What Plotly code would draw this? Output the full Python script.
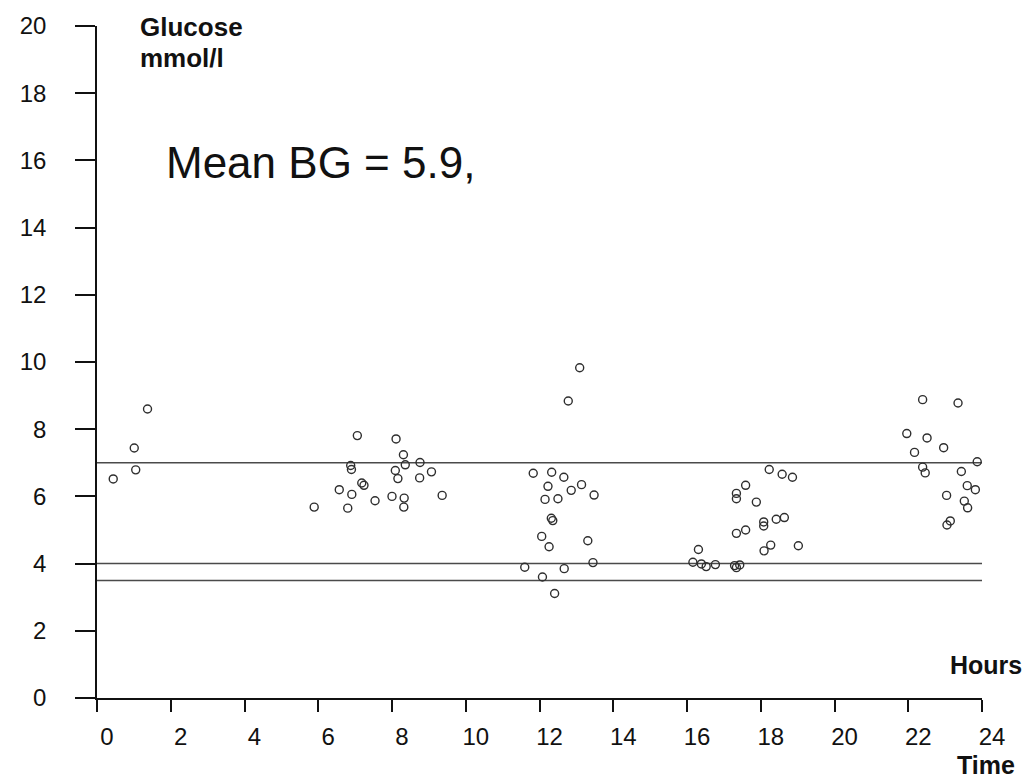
import plotly.graph_objects as go

# Blood glucose readings over the day (time of day in hours, glucose in mmol/l)
hours = [
    0.44, 1.01, 1.05, 1.37,
    5.89, 6.57, 6.80, 6.88, 6.90, 6.91, 7.06, 7.18, 7.24, 7.54, 8.00, 8.09,
    8.11, 8.16, 8.31, 8.32, 8.33, 8.36, 8.75, 8.76, 9.07, 9.36,
    11.60, 11.83, 12.06, 12.08, 12.15, 12.23, 12.26, 12.33, 12.32, 12.36,
    12.41, 12.50, 12.66, 12.67, 12.78, 12.86, 13.09, 13.14, 13.31, 13.45, 13.48,
    16.16, 16.31, 16.39, 16.52, 16.77, 17.29, 17.34, 17.43, 17.34, 17.59,
    17.34, 17.34, 17.59, 17.88, 18.08, 18.08, 18.09, 18.27, 18.42, 18.64,
    18.23, 18.58, 18.86, 19.02,
    21.96, 22.17, 22.39, 22.39, 22.46, 22.51, 22.96, 23.04, 23.05, 23.14,
    23.35, 23.44, 23.52, 23.60, 23.61, 23.82, 23.87,
]
glucose = [
    6.52, 7.44, 6.79, 8.60,
    5.68, 6.20, 5.65, 6.92, 6.80, 6.06, 7.81, 6.40, 6.33, 5.87, 6.00, 6.77,
    7.71, 6.53, 7.24, 5.68, 5.95, 6.94, 6.55, 7.01, 6.73, 6.03,
    3.89, 6.69, 4.81, 3.60, 5.91, 6.30, 4.50, 6.72, 5.35, 5.28,
    3.11, 5.93, 6.57, 3.85, 8.84, 6.18, 9.83, 6.35, 4.68, 4.03, 6.04,
    4.04, 4.42, 3.99, 3.91, 3.97, 3.94, 3.88, 3.96, 4.90, 5.00,
    5.93, 6.09, 6.33, 5.83, 5.24, 5.12, 4.38, 4.55, 5.32, 5.37,
    6.80, 6.66, 6.57, 4.53,
    7.87, 7.31, 8.88, 6.87, 6.70, 7.74, 7.45, 6.03, 5.15, 5.27,
    8.78, 6.74, 5.86, 6.32, 5.66, 6.20, 7.03,
]

# Reference levels (mmol/l)
ref_levels = [7.0, 4.0, 3.5]

x_ticks = list(range(0, 25, 2))
y_ticks = list(range(0, 21, 2))

FONT = "Liberation Sans, Arial, sans-serif"

fig = go.Figure()
fig.add_trace(go.Scatter(
    x=hours, y=glucose, mode="markers",
    marker=dict(symbol="circle-open", size=8, color="#2e2e2e",
                line=dict(width=1.4, color="#2e2e2e")),
    showlegend=False, cliponaxis=False,
))

for lvl in ref_levels:
    fig.add_shape(type="line", xref="x", yref="y", x0=0, x1=24.05, y0=lvl, y1=lvl,
                  line=dict(color="#4a4a4a", width=1.5), layer="below")

fig.update_layout(
    width=1027, height=781,
    margin=dict(l=97, r=45, t=22, b=83),
    plot_bgcolor="white", paper_bgcolor="white",
    font=dict(family=FONT, size=24, color="#111"),
    xaxis=dict(range=[0, 24], tickvals=x_ticks, ticktext=[str(v) for v in x_ticks],
               showgrid=False, zeroline=False, showline=True, linecolor="#111",
               linewidth=1.6, ticks="outside", ticklen=12, tickwidth=1.5,
               tickcolor="#111", ticklabelstandoff=4, ticklabelshift=10),
    yaxis=dict(range=[0, 20], tickvals=y_ticks, ticktext=[str(v) for v in y_ticks],
               showgrid=False, zeroline=False, showline=True, linecolor="#111",
               linewidth=1.6, ticks="outside", ticklen=20, tickwidth=1.5,
               tickcolor="#111", ticklabelstandoff=24),
)

annotations = [
    dict(x=0.046, y=0.999, text="<b>Glucose</b>", xanchor="left", size=26),
    dict(x=0.046, y=0.953, text="<b>mmol/l</b>", xanchor="left", size=26),
    dict(x=0.076, y=0.797, text="Mean BG = 5.9,", xanchor="left", size=44),
    dict(x=1.047, y=0.049, text="<b>Hours</b>", xanchor="right", size=25),
    dict(x=1.039, y=-0.099, text="<b>Time</b>", xanchor="right", size=25),
]
for a in annotations:
    fig.add_annotation(x=a["x"], y=a["y"], xref="paper", yref="paper", text=a["text"],
                       showarrow=False, xanchor=a["xanchor"], yanchor="middle",
                       font=dict(family=FONT, size=a["size"], color="#111"))

fig.write_html("out.html")
